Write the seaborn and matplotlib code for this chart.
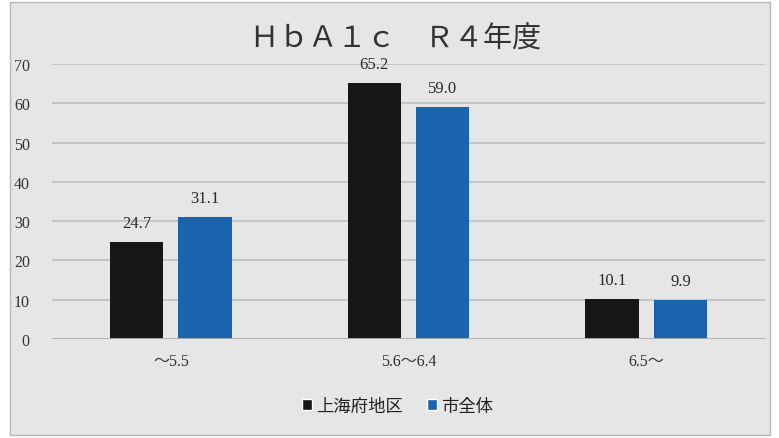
import matplotlib
matplotlib.use("Agg")
import matplotlib.pyplot as plt
import seaborn as sns
import pandas as pd
from matplotlib.patches import Rectangle

categories = ["～5.5", "5.6～6.4", "6.5～"]
series_names = ["上海府地区", "市全体"]
values_local = [24.7, 65.2, 10.1]
values_city = [31.1, 59.0, 9.9]
y_ticks = [0, 10, 20, 30, 40, 50, 60, 70]
title = "ＨｂＡ１ｃ　Ｒ４年度"

colors = ["#161616", "#1a63ad"]
bg = "#e6e6e6"

df = pd.DataFrame({
    "cat": categories * 2,
    "series": [series_names[0]] * 3 + [series_names[1]] * 3,
    "value": values_local + values_city,
})

sns.set_theme(style="white")
plt.rcParams["font.family"] = ["Liberation Serif", "Noto Sans CJK JP", "DejaVu Sans"]

fig = plt.figure(figsize=(7.79, 4.39), dpi=100, facecolor="white")
bgrect = Rectangle((10 / 779, 3 / 439), 760 / 779, 433 / 439,
                   transform=fig.transFigure, facecolor=bg,
                   edgecolor="#b8b8b8", linewidth=1.0, zorder=-10)
fig.patches.append(bgrect)
ax = fig.add_axes([52 / 779, 1 - 340 / 439, (765 - 52) / 779, (340 - 65) / 439])
ax.set_facecolor(bg)
ax.set_zorder(5)

sns.barplot(data=df, x="cat", y="value", hue="series", palette=colors,
            width=0.576, gap=0.22, ax=ax, legend=False, saturation=1,
            linewidth=0)

ax.set_ylim(0, 70)
ax.set_xlim(-0.5, 2.5)
ax.set_yticks(y_ticks)
ax.set_yticklabels([str(t) for t in y_ticks], fontsize=11.5, color="#333333")
ax.set_xticks(range(len(categories)))
ax.set_xticklabels(categories, fontsize=11.5, color="#333333",
                   family=["Liberation Serif", "Noto Sans CJK JP"])
ax.tick_params(axis="x", pad=10, length=0)
ax.tick_params(axis="y", pad=16, length=0)
ax.set_xlabel("")
ax.set_ylabel("")
ax.grid(axis="y", color="#c2c2c2", linewidth=1.3)
ax.set_axisbelow(True)
for s in ["top", "right", "left", "bottom"]:
    ax.spines[s].set_visible(False)
ax.axhline(0, color="#b0b0b0", linewidth=1.3, zorder=1)

for cont in ax.containers:
    ax.bar_label(cont, fmt="%.1f", padding=8, fontsize=12, color="#2a2a2a")

fig.text(0.508, 1 - 40 / 439, title, ha="center", va="center", fontsize=21,
         color="#333333", family=["Noto Sans CJK JP"])

handles = [Rectangle((0, 0), 1, 1, facecolor=c) for c in colors]
leg = fig.legend(handles, series_names, loc="center", bbox_to_anchor=(0.51, 1 - 407 / 439),
                 ncol=2, frameon=False, handlelength=0.6, handleheight=0.6,
                 handletextpad=0.2, columnspacing=1.4,
                 prop={"family": "Noto Sans CJK JP", "size": 12.5})
for t in leg.get_texts():
    t.set_color("#222222")

fig.savefig("out.png", dpi=100, facecolor="white")
